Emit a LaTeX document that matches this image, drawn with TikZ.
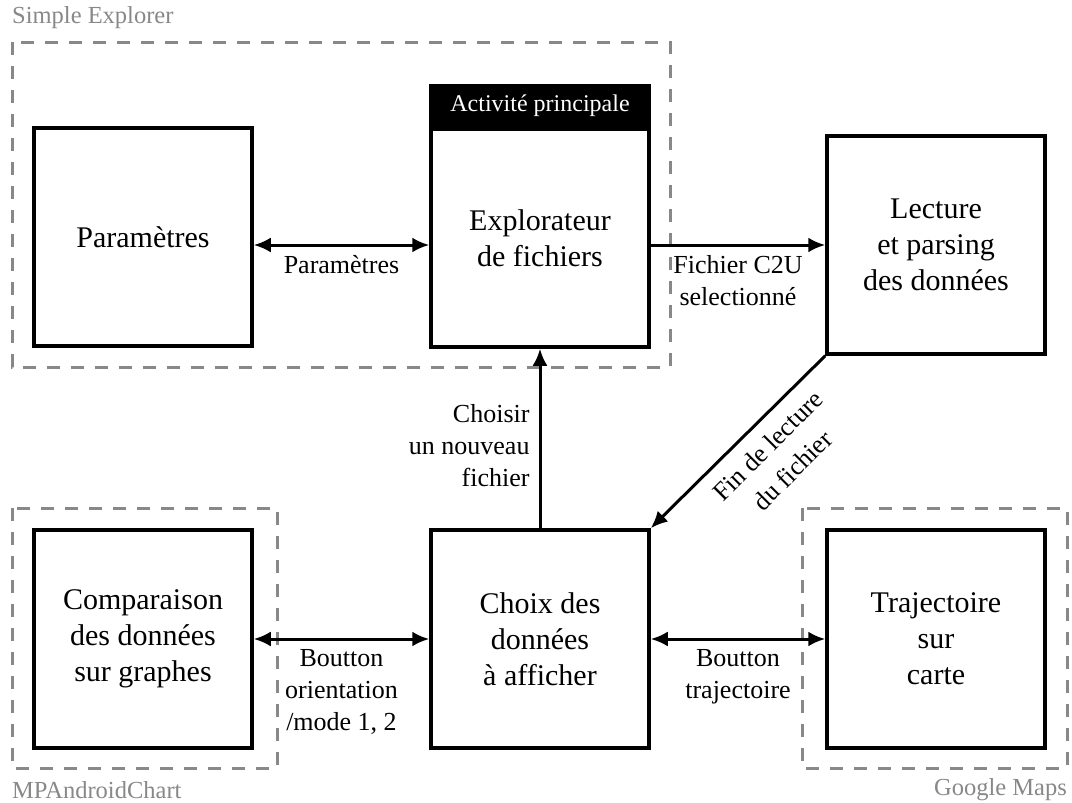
\documentclass[tikz,border=0pt]{standalone}
\usepackage{fontspec}
\setmainfont{Liberation Serif}
\usetikzlibrary{arrows.meta,positioning}
\definecolor{grpgray}{RGB}{136,136,136}

\begin{document}
\begin{tikzpicture}[x=1pt, y=-1pt,
    box/.style={draw, line width=3.5pt, minimum width=218pt, minimum height=218pt, inner sep=0pt, align=center, font=\fontsize{30}{36}\selectfont},
    tabbox/.style={draw, fill=black, text=white, line width=3.5pt, minimum width=218pt, minimum height=40pt, inner sep=0pt, font=\fontsize{24}{28}\selectfont},
    lbl/.style={inner sep=9pt, align=center, font=\fontsize{26}{32}\selectfont},
    conn/.style={line width=3pt, -{Latex[length=17pt,width=15pt]}},
    dblconn/.style={line width=3pt, {Latex[length=17pt,width=15pt]}-{Latex[length=17pt,width=15pt]}},
    grp/.style={draw=grpgray, line width=3pt, dash pattern=on 13pt off 11pt},
    grplbl/.style={inner sep=2pt, text=grpgray, font=\fontsize{24.5}{28}\selectfont}]
    \useasboundingbox (0,0) rectangle (1072,803);

    \draw[grp] (12,42) rectangle (670,367);
    \draw[grp] (12,508) rectangle (277,768);
    \draw[grp] (802,508) rectangle (1067,768);
    \node[grplbl, anchor=west] (gse) at (10,18) {Simple Explorer};
    \node[grplbl, anchor=west] (gmp) at (10,790) {MPAndroidChart};
    \node[grplbl, anchor=east] (ggm) at (1069,790) {Google Maps};

    \node[box] (param) at (143,237) {Paramètres};
    \node[box] (explor) at (540,238) {Explorateur\\de fichiers};
    \node[tabbox, anchor=south] (tab) at (explor.north) {Activité principale};
    \node[box] (lect) at (936,245) {Lecture\\et parsing\\des données};
    \node[box] (comp) at (143,639) {Comparaison\\des données\\sur graphes};
    \node[box] (choix) at (540,639) {Choix des\\données\\à afficher};
    \node[box] (traj) at (936,639) {Trajectoire\\sur\\carte};

    \draw[dblconn] (param.east |- lect) -- (explor.west |- lect) node[lbl, midway, below] {Paramètres};
    \draw[conn] (explor.east |- lect) -- (lect.west) node[lbl, midway, below] {Fichier C2U\\selectionné};
    \draw[conn] (lect.south west) -- (choix.north east);
    \node[lbl, rotate=45, font=\fontsize{26}{35}\selectfont] (finlbl) at (780,458) {Fin de lecture\\du fichier};
    \draw[conn] (choix) -- (explor) node[lbl, pos=0.46, left, align=right] {Choisir\\un nouveau\\fichier};
    \draw[dblconn] (comp) -- (choix) node[lbl, midway, below] {Boutton\\orientation\\/mode 1, 2};
    \draw[dblconn] (choix) -- (traj) node[lbl, midway, below] {Boutton\\trajectoire};
\end{tikzpicture}
\end{document}
